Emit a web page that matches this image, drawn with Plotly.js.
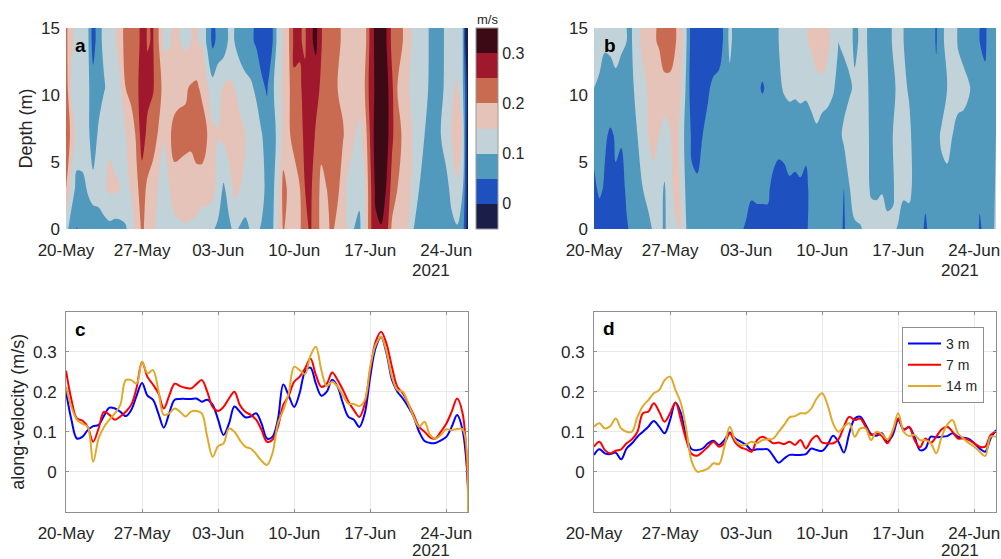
<!DOCTYPE html>
<html><head><meta charset="utf-8">
<script src="https://cdn.plot.ly/plotly-3.0.1.min.js"></script>
<style>html,body{margin:0;padding:0;background:#fff}#chart{width:1001px;height:559px}</style>
</head><body><div id="chart"></div>
<script>
// ---- data (half-day steps from 20-May-2021 00:00) ----
const startDate = Date.UTC(2021, 4, 20);
const stepHours = 12;
const depths = [0, 3, 7, 10.5, 14, 15];
const xTickVals = ['2021-05-20','2021-05-27','2021-06-03','2021-06-10','2021-06-17','2021-06-24'];
const xTickText = ['20-May','27-May','03-Jun','10-Jun','17-Jun','24-Jun'];
const yTickDepth = [0, 5, 10, 15];
const yTickVel = [0, 0.1, 0.2, 0.3];
const yTickVelText = ['0', '0.1', '0.2', '0.3'];
const cbTickText = ['0', '0.1', '0.2', '0.3'];
const seriesNames = ['3 m', '7 m', '14 m'];
const bandColors = ['#1a1e48','#1f50c0','#5299be','#c1d3d9','#e5c3b8','#c96b50','#a0182b','#3c0a14'];

// panel c : site 1 along-velocity (m/s)
const c3 = [0.20,0.13,0.083,0.087,0.104,0.114,0.117,0.14,0.16,0.158,
 0.15,0.139,0.154,0.19,0.222,0.19,0.18,0.146,0.11,0.146,
 0.18,0.182,0.182,0.182,0.183,0.175,0.18,0.167,0.13,0.092,
 0.12,0.163,0.15,0.136,0.138,0.146,0.12,0.083,0.087,0.13,
 0.218,0.19,0.162,0.196,0.25,0.26,0.22,0.19,0.20,0.23,
 0.212,0.17,0.137,0.13,0.112,0.146,0.237,0.31,0.337,0.296,
 0.23,0.20,0.183,0.162,0.137,0.10,0.077,0.072,0.072,0.078,
 0.087,0.112,0.142,0.104,-0.033];
const c7 = [0.2525,0.18,0.133,0.128,0.112,0.075,0.108,0.15,0.142,0.13,
 0.138,0.15,0.167,0.21,0.275,0.237,0.218,0.196,0.158,0.19,
 0.22,0.214,0.21,0.208,0.219,0.229,0.20,0.162,0.152,0.162,
 0.183,0.20,0.167,0.15,0.142,0.13,0.104,0.075,0.08,0.112,
 0.167,0.19,0.225,0.237,0.258,0.283,0.242,0.212,0.22,0.248,
 0.229,0.204,0.175,0.154,0.137,0.17,0.254,0.325,0.35,0.32,
 0.262,0.212,0.196,0.17,0.142,0.112,0.10,0.086,0.083,0.10,
 0.12,0.15,0.183,0.146,-0.05];
const c14 = [0.2125,0.162,0.13,0.12,0.112,0.025,0.083,0.112,0.13,0.146,
 0.167,0.229,0.229,0.22,0.275,0.246,0.254,0.204,0.142,0.146,
 0.158,0.15,0.138,0.15,0.152,0.146,0.0875,0.0375,0.064,0.071,
 0.108,0.10,0.079,0.0625,0.058,0.044,0.027,0.017,0.046,0.12,
 0.154,0.196,0.2625,0.254,0.244,0.29,0.3125,0.254,0.214,0.225,
 0.2125,0.19,0.17,0.169,0.164,0.179,0.2625,0.317,0.3375,0.30,
 0.2375,0.204,0.20,0.17,0.137,0.1125,0.125,0.092,0.083,0.092,
 0.106,0.104,0.107,0.106,-0.11];
// panel a : extra depth rows (bottom and ~10.5 m)
const a0 = [0.12,0.07,0.048,0.07,0.075,0.08,0.08,0.08,0.085,0.08,
 0.085,0.095,0.13,0.165,0.21,0.18,0.16,0.14,0.13,0.13,
 0.135,0.14,0.145,0.14,0.135,0.12,0.11,0.105,0.09,0.07,
 0.09,0.11,0.095,0.085,0.105,0.11,0.095,0.085,0.09,0.155,
 0.205,0.18,0.17,0.19,0.24,0.255,0.225,0.185,0.19,0.21,
 0.18,0.16,0.145,0.10,0.09,0.14,0.24,0.29,0.295,0.27,
 0.19,0.17,0.16,0.15,0.10,0.085,0.08,0.08,0.08,0.08,
 0.085,0.09,0.095,0.07,-0.03];
const a10 = [0.23,0.14,0.125,0.12,0.11,0.075,0.08,0.095,0.12,0.13,
 0.145,0.20,0.22,0.24,0.27,0.265,0.255,0.22,0.185,0.17,
 0.175,0.19,0.195,0.205,0.21,0.19,0.16,0.12,0.14,0.155,
 0.16,0.15,0.13,0.12,0.11,0.09,0.06,0.045,0.09,0.13,
 0.16,0.19,0.24,0.245,0.26,0.28,0.27,0.24,0.22,0.21,
 0.20,0.19,0.175,0.17,0.175,0.20,0.27,0.31,0.34,0.32,
 0.26,0.20,0.17,0.155,0.13,0.12,0.11,0.095,0.09,0.09,
 0.11,0.14,0.16,0.11,-0.03];

// panel d : site 2 along-velocity (m/s)
const d3 = [0.042,0.056,0.046,0.044,0.0475,0.031,0.058,0.071,0.0875,0.10,
 0.1125,0.127,0.1125,0.096,0.129,0.173,0.146,0.0875,0.056,0.054,
 0.058,0.071,0.0775,0.067,0.079,0.098,0.083,0.075,0.067,0.054,
 0.056,0.056,0.056,0.039,0.0225,0.033,0.042,0.042,0.042,0.044,
 0.058,0.054,0.052,0.067,0.09,0.075,0.048,0.096,0.133,0.1375,
 0.117,0.094,0.09,0.096,0.075,0.092,0.129,0.106,0.111,0.0875,
 0.054,0.058,0.0875,0.086,0.0875,0.089,0.096,0.0875,0.085,0.082,
 0.071,0.058,0.05,0.083,0.104];
const d7 = [0.0625,0.075,0.054,0.046,0.0525,0.056,0.071,0.081,0.10,0.146,
 0.15,0.171,0.15,0.125,0.146,0.1725,0.129,0.079,0.044,0.04,
 0.05,0.0625,0.075,0.0625,0.071,0.096,0.073,0.061,0.056,0.05,
 0.079,0.0875,0.081,0.071,0.073,0.069,0.075,0.067,0.079,0.058,
 0.079,0.09,0.0725,0.071,0.071,0.081,0.1125,0.1375,0.129,0.133,
 0.1125,0.092,0.096,0.089,0.071,0.10,0.133,0.104,0.1125,0.079,
 0.061,0.083,0.0725,0.0875,0.106,0.1125,0.10,0.083,0.083,0.079,
 0.071,0.0625,0.0625,0.092,0.10];
const d14 = [0.1125,0.121,0.108,0.114,0.133,0.108,0.10,0.10,0.1375,0.164,
 0.179,0.196,0.204,0.229,0.2375,0.204,0.171,0.104,0.025,0.0,
 0.0025,0.008,0.021,0.019,0.0625,0.1125,0.079,0.067,0.068,0.075,
 0.071,0.079,0.081,0.083,0.10,0.117,0.136,0.139,0.146,0.146,
 0.158,0.183,0.196,0.167,0.121,0.10,0.1125,0.121,0.0875,0.108,
 0.108,0.079,0.10,0.094,0.081,0.104,0.146,0.10,0.089,0.092,
 0.079,0.079,0.071,0.046,0.0875,0.117,0.129,0.096,0.083,0.071,
 0.0625,0.05,0.039,0.0875,0.0875];
// panel b : extra depth rows (bottom and ~10.5 m)
const b0 = [0.03,0.03,0.03,0.035,0.035,0.04,0.045,0.06,0.075,0.08,
 0.09,0.105,0.11,0.095,0.12,0.14,0.155,0.10,0.075,0.075,
 0.075,0.08,0.08,0.08,0.08,0.075,0.065,0.055,0.045,0.04,
 0.04,0.04,0.04,0.035,0.035,0.035,0.035,0.04,0.04,0.045,
 0.06,0.075,0.08,0.08,0.07,0.065,0.045,0.07,0.09,0.095,
 0.11,0.12,0.125,0.125,0.12,0.11,0.095,0.085,0.08,0.07,
 0.06,0.045,0.06,0.075,0.08,0.085,0.085,0.08,0.08,0.08,
 0.075,0.045,0.06,0.09,0.105];
const b10 = [0.10,0.09,0.075,0.07,0.075,0.08,0.085,0.095,0.11,0.135,
 0.155,0.17,0.18,0.185,0.18,0.17,0.155,0.09,0.02,0.025,
 0.035,0.045,0.06,0.07,0.08,0.085,0.08,0.075,0.07,0.07,
 0.06,0.045,0.06,0.075,0.09,0.105,0.11,0.11,0.11,0.115,
 0.12,0.13,0.13,0.12,0.105,0.085,0.075,0.09,0.11,0.115,
 0.11,0.09,0.085,0.10,0.085,0.09,0.11,0.11,0.095,0.08,
 0.075,0.075,0.07,0.06,0.08,0.10,0.115,0.12,0.115,0.105,
 0.085,0.065,0.065,0.085,0.10];

// ---- build ----
const times = c3.map((_, i) => new Date(startDate + i * stepHours * 3600 * 1000).toISOString().slice(0, 16).replace('T', ' '));
const colorscale = [];
bandColors.forEach((c, i) => { colorscale.push([i / 8, c]); colorscale.push([(i + 1) / 8, c]); });
const lineColors = ['#0000ff', '#ff0000', '#e0a92a'];
const FONT = 'Liberation Sans, Arial, Helvetica, sans-serif';
const TXT = '#262626';
const AXC = '#8f8f8f';

function contourTrace(rows, xa, ya, showScale) {
  return {
    type: 'contour', x: times, y: depths, z: rows, xaxis: xa, yaxis: ya,
    zmin: -0.05, zmax: 0.35, colorscale: colorscale, showscale: showScale,
    contours: {start: 0, end: 0.3, size: 0.05, coloring: 'fill', showlines: false},
    line: {width: 0, smoothing: 1},
    hoverinfo: 'skip',
    colorbar: {
      x: 476 / 1001, xanchor: 'left', xref: 'paper', xpad: 0, ypad: 0,
      y: 1 - 128.5 / 559, yanchor: 'middle', len: 201 / 559, lenmode: 'fraction',
      thickness: 22, outlinewidth: 1, outlinecolor: '#9a9a9a',
      tickvals: yTickVel, ticktext: cbTickText, ticks: '',
      tickfont: {family: FONT, size: 16, color: TXT}
    }
  };
}

const data = [
  contourTrace([a0, c3, c7, a10, c14, c14], 'x', 'y', true),
  contourTrace([b0, d3, d7, b10, d14, d14], 'x2', 'y2', false)
];
[c3, c7, c14].forEach((s, i) => data.push({
  type: 'scatter', mode: 'lines', x: times, y: s, xaxis: 'x3', yaxis: 'y3',
  line: {color: lineColors[i], width: 2, shape: 'spline', smoothing: 1}, showlegend: false, name: seriesNames[i]
}));
[d3, d7, d14].forEach((s, i) => data.push({
  type: 'scatter', mode: 'lines', x: times, y: s, xaxis: 'x4', yaxis: 'y4',
  line: {color: lineColors[i], width: 2, shape: 'spline', smoothing: 1}, showlegend: true, name: seriesNames[i]
}));

const domLeft = [66 / 1001, 468 / 1001], domRight = [594 / 1001, 996 / 1001];
const domTop = [1 - 229 / 559, 1 - 28 / 559], domBot = [1 - 511.7 / 559, 1 - 311.7 / 559];
function xax(dom, anchor, grid) {
  return {
    domain: dom, anchor: anchor, type: 'date', range: ['2021-05-20', '2021-06-26'],
    tickvals: xTickVals, ticktext: xTickText,
    ticks: grid ? 'inside' : '', ticklen: 3, tickcolor: AXC, ticklabelstandoff: grid ? 6 : 9,
    showgrid: grid, gridcolor: '#e9e9e9', gridwidth: 1, zeroline: false,
    showline: grid, mirror: grid ? 'ticks' : false, linecolor: AXC, linewidth: 1,
    tickfont: {family: FONT, size: 17, color: TXT}
  };
}
function yax(dom, anchor, grid, rng, tv, tt, title) {
  return {
    domain: dom, anchor: anchor, range: rng, tickvals: tv, ticktext: tt,
    ticks: grid ? 'inside' : '', ticklen: 3, tickcolor: AXC,
    ticklabelstandoff: 5, showgrid: grid, gridcolor: '#e9e9e9', gridwidth: 1, zeroline: false,
    showline: grid, mirror: grid ? 'ticks' : false, linecolor: AXC, linewidth: 1,
    tickfont: {family: FONT, size: 17, color: TXT},
    title: {text: title, standoff: 3, font: {family: FONT, size: 18, color: TXT}}
  };
}

function label(t, x, y, size, bold) {
  return {text: bold ? '<b>' + t + '</b>' : t, xref: 'paper', yref: 'paper', x: x / 1001, y: 1 - y / 559,
    xanchor: 'center', yanchor: 'middle', showarrow: false, font: {family: FONT, size: size, color: bold ? '#000' : TXT}};
}

const layout = {
  width: 1001, height: 559, margin: {l: 0, r: 0, t: 0, b: 0},
  paper_bgcolor: '#fff', plot_bgcolor: '#fff', font: {family: FONT, color: TXT},
  xaxis: xax(domLeft, 'y', false), yaxis: yax(domTop, 'x', false, [0, 15], yTickDepth, yTickDepth.map(String), 'Depth (m)'),
  xaxis2: xax(domRight, 'y2', false), yaxis2: yax(domTop, 'x2', false, [0, 15], yTickDepth, yTickDepth.map(String), ''),
  xaxis3: xax(domLeft, 'y3', true), yaxis3: yax(domBot, 'x3', true, [-0.1, 0.4], yTickVel, yTickVelText, 'along-velocity (m/s)'),
  xaxis4: xax(domRight, 'y4', true), yaxis4: yax(domBot, 'x4', true, [-0.1, 0.4], yTickVel, yTickVelText, ''),
  showlegend: true,
  legend: {x: 902 / 1001, y: 1 - 327 / 559, xanchor: 'left', yanchor: 'top', bgcolor: '#fff',
    bordercolor: AXC, borderwidth: 1, font: {family: FONT, size: 14, color: TXT}, tracegroupgap: 0, itemwidth: 33},
  annotations: [
    label('m/s', 487, 19, 13, false),
    label('a', 80, 46, 19, true), label('b', 610, 46, 19, true),
    label('c', 80, 329, 19, true), label('d', 609, 328, 19, true),
    label('2021', 431, 270, 17, false), label('2021', 960, 270, 17, false),
    label('2021', 431, 550, 17, false), label('2021', 960, 550, 17, false)
  ]
};
Plotly.newPlot('chart', data, layout, {staticPlot: true, displayModeBar: false});
</script></body></html>
